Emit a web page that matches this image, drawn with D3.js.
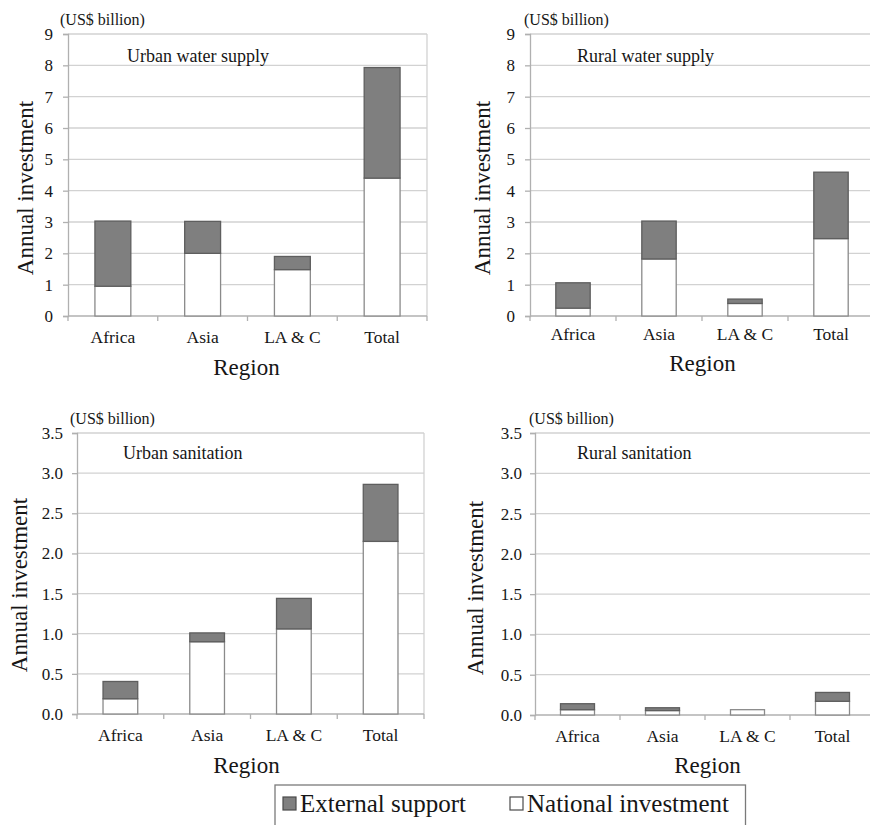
<!DOCTYPE html>
<html>
<head>
<meta charset="utf-8">
<script src="https://cdn.jsdelivr.net/npm/d3@7"></script>
<style>
  html, body { margin: 0; padding: 0; background: #fff; }
  svg { display: block; }
  svg text { font-family: "Liberation Serif", "Times New Roman", serif !important; }
</style>
</head>
<body>
<svg id="chart" width="870" height="825"></svg>
<script>
// ---- Data ----
const regions = ["Africa", "Asia", "LA & C", "Total"];
const seriesNames = ["External support", "National investment"];

const urbanWaterNational = [0.95, 2.00, 1.48, 4.40];
const urbanWaterExternal = [2.08, 1.02, 0.42, 3.53];

const ruralWaterNational = [0.25, 1.82, 0.40, 2.47];
const ruralWaterExternal = [0.81, 1.21, 0.14, 2.12];

const urbanSanNational = [0.19, 0.90, 1.06, 2.15];
const urbanSanExternal = [0.215, 0.11, 0.38, 0.71];

const ruralSanNational = [0.066, 0.055, 0.066, 0.17];
const ruralSanExternal = [0.074, 0.035, 0.0, 0.11];

const waterTicks = [0, 1, 2, 3, 4, 5, 6, 7, 8, 9];
const sanitationTicks = [0, 0.5, 1.0, 1.5, 2.0, 2.5, 3.0, 3.5];

const panelTitles = ["Urban water supply", "Rural water supply", "Urban sanitation", "Rural sanitation"];
const unitLabel = "(US$ billion)";
const yAxisLabel = "Annual investment";
const xAxisLabel = "Region";

const FONT = "'Liberation Serif', 'Times New Roman', serif";

// ---- Layout ----
const panels = [
  { title: panelTitles[0], nat: urbanWaterNational, ext: urbanWaterExternal, ticks: waterTicks, fmt: d3.format("d"),
    left: 68, right: 427, top: 34, bottom: 316, border: true,
    unitX: 60, unitY: 25, titleX: 59, titleY: 28, tickLabY: 343, tickLabRight: 15,
    yLabX: 33, yLabY: 188, xLabX: 246.5, xLabY: 375 },
  { title: panelTitles[1], nat: ruralWaterNational, ext: ruralWaterExternal, ticks: waterTicks, fmt: d3.format("d"),
    left: 530, right: 874, top: 34, bottom: 316, border: true,
    unitX: 524, unitY: 25, titleX: 47, titleY: 28, tickLabY: 339.5, tickLabRight: 15,
    yLabX: 490, yLabY: 188, xLabX: 702.5, xLabY: 371 },
  { title: panelTitles[2], nat: urbanSanNational, ext: urbanSanExternal, ticks: sanitationTicks, fmt: d3.format(".1f"),
    left: 77, right: 424, top: 433, bottom: 714, border: true,
    unitX: 70, unitY: 424, titleX: 46, titleY: 26, tickLabY: 741, tickLabRight: 14,
    yLabX: 27, yLabY: 585, xLabX: 246.5, xLabY: 773 },
  { title: panelTitles[3], nat: ruralSanNational, ext: ruralSanExternal, ticks: sanitationTicks, fmt: d3.format(".1f"),
    left: 535, right: 875, top: 433, bottom: 715, border: true,
    unitX: 529, unitY: 424, titleX: 42, titleY: 26, tickLabY: 741.5, tickLabRight: 13,
    yLabX: 483, yLabY: 588, xLabX: 707.5, xLabY: 773 }
];

const colExternal = "#7f7f7f";
const colExternalStroke = "#5e5e5e";
const colNational = "#ffffff";
const colNationalStroke = "#8a8a8a";
const gridColor = "#d2d2d2";
const axisColor = "#b0b0b0";
const textColor = "#161616";

const svg = d3.select("#chart");

panels.forEach(p => {
  const g = svg.append("g").attr("font-family", FONT);
  const yMax = p.ticks[p.ticks.length - 1];
  const y = d3.scaleLinear().domain([0, yMax]).range([p.bottom, p.top]);
  const x = d3.scaleBand().domain(regions).range([p.left, p.right]).paddingInner(0.6).paddingOuter(0.3);
  const step = x.step();

  // gridlines
  g.append("g").selectAll("line").data(p.ticks.filter(t => t > 0)).join("line")
    .attr("x1", p.left).attr("x2", p.right)
    .attr("y1", d => y(d)).attr("y2", d => y(d))
    .attr("stroke", gridColor).attr("stroke-width", 1.3);

  // right border
  if (p.border) {
    g.append("line").attr("x1", p.right).attr("x2", p.right)
      .attr("y1", p.top).attr("y2", p.bottom)
      .attr("stroke", gridColor).attr("stroke-width", 1.3);
  }

  // y axis
  const yAxis = d3.axisLeft(y).tickValues(p.ticks).tickFormat(p.fmt).tickSize(5).tickPadding(p.tickLabRight - 5);
  const ya = g.append("g").attr("transform", `translate(${p.left},0)`).call(yAxis)
    .attr("font-family", FONT).attr("font-size", 17);
  ya.select(".domain").attr("stroke", axisColor).attr("stroke-width", 1.3);
  ya.selectAll(".tick line").attr("stroke", axisColor).attr("stroke-width", 1.3);
  ya.selectAll(".tick text").attr("fill", textColor);

  // x axis: ticks at band boundaries
  const boundaries = regions.map((r, i) => p.left + i * step).concat([p.right]);
  g.append("line").attr("x1", p.left).attr("x2", p.right)
    .attr("y1", p.bottom).attr("y2", p.bottom)
    .attr("stroke", axisColor).attr("stroke-width", 1.3);
  g.append("g").selectAll("line").data(boundaries).join("line")
    .attr("x1", d => d).attr("x2", d => d)
    .attr("y1", p.bottom).attr("y2", p.bottom + 5)
    .attr("stroke", axisColor).attr("stroke-width", 1.3);
  g.append("g").selectAll("text").data(regions).join("text")
    .attr("x", d => x(d) + x.bandwidth() / 2)
    .attr("y", p.tickLabY)
    .attr("text-anchor", "middle")
    .attr("fill", textColor)
    .attr("font-size", 17.5)
    .text(d => d);

  // stacked bars
  const rows = regions.map((r, i) => ({ region: r, nat: p.nat[i], ext: p.ext[i] }));
  const bars = g.append("g");
  bars.selectAll("rect.nat").data(rows).join("rect").attr("class", "nat")
    .attr("x", d => x(d.region)).attr("width", x.bandwidth())
    .attr("y", d => y(d.nat)).attr("height", d => y(0) - y(d.nat))
    .attr("fill", colNational).attr("stroke", colNationalStroke).attr("stroke-width", 1.3);
  bars.selectAll("rect.ext").data(rows.filter(d => d.ext > 0)).join("rect").attr("class", "ext")
    .attr("x", d => x(d.region)).attr("width", x.bandwidth())
    .attr("y", d => y(d.nat + d.ext)).attr("height", d => y(d.nat) - y(d.nat + d.ext))
    .attr("fill", colExternal).attr("stroke", colExternalStroke).attr("stroke-width", 1.3);

  // unit label
  g.append("text").attr("x", p.unitX).attr("y", p.unitY)
    .attr("fill", textColor).attr("font-size", 16).text(unitLabel);

  // panel title
  g.append("text").attr("x", p.left + p.titleX).attr("y", p.top + p.titleY)
    .attr("fill", textColor).attr("font-size", 18).text(p.title);

  // y axis label
  g.append("text")
    .attr("transform", `translate(${p.yLabX},${p.yLabY}) rotate(-90)`)
    .attr("text-anchor", "middle")
    .attr("fill", textColor).attr("font-size", 23).text(yAxisLabel);

  // x axis label
  g.append("text").attr("x", p.xLabX).attr("y", p.xLabY)
    .attr("text-anchor", "middle")
    .attr("fill", textColor).attr("font-size", 23).text(xAxisLabel);
});

// ---- Legend ----
const legend = svg.append("g").attr("font-family", FONT);
legend.append("rect").attr("x", 275).attr("y", 785).attr("width", 470.5).attr("height", 60)
  .attr("fill", "#fff").attr("stroke", "#7a7a7a").attr("stroke-width", 1.3);
const legendItems = [
  { name: seriesNames[0], fill: colExternal, stroke: "#4a4a4a", sx: 283, tx: 300 },
  { name: seriesNames[1], fill: colNational, stroke: "#4a4a4a", sx: 510, tx: 527 }
];
legendItems.forEach(it => {
  legend.append("rect").attr("x", it.sx).attr("y", 797).attr("width", 13).attr("height", 13)
    .attr("fill", it.fill).attr("stroke", it.stroke).attr("stroke-width", 1.2);
  legend.append("text").attr("x", it.tx).attr("y", 812)
    .attr("fill", textColor).attr("font-size", 25).text(it.name);
});
</script>
</body>
</html>
